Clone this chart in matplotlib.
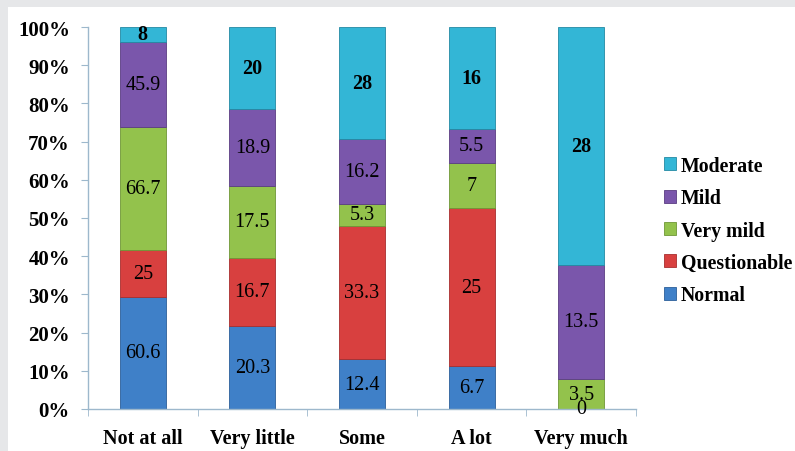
import numpy as np
import matplotlib
matplotlib.use('Agg')
import matplotlib.pyplot as plt
from matplotlib.patches import Rectangle, Patch

plt.rcParams['font.family'] = ['Liberation Serif', 'DejaVu Serif']

# raw counts per category (shown as labels), stacked to 100%
categories = ['Not at all', 'Very little', 'Some', 'A lot', 'Very much']
series = ['Normal', 'Questionable', 'Very mild', 'Mild', 'Moderate']
normal = [60.6, 20.3, 12.4, 6.7, 0]
questionable = [25, 16.7, 33.3, 25, 0]
very_mild = [66.7, 17.5, 5.3, 7, 3.5]
mild = [45.9, 18.9, 16.2, 5.5, 13.5]
moderate = [8, 20, 28, 16, 28]
colors = ['#3f80c8', '#d8403f', '#93c24c', '#7a56ab', '#33b6d6']
edges = ['#2c5f99', '#a82e2e', '#6f9637', '#5a3d82', '#2389a3']

data = np.array([normal, questionable, very_mild, mild, moderate], dtype=float)
pct = data / data.sum(axis=0) * 100

fig = plt.figure(figsize=(7.95, 4.52), dpi=100)
fig.patch.set_facecolor('#e6e7e9')
fig.patches.append(Rectangle((8 / 795, 0), 1, 1 - 8 / 452, transform=fig.transFigure,
                             facecolor='white', edgecolor='none', zorder=-10))

ax = fig.add_axes([88 / 795, 1 - 410 / 452, (636 - 88) / 795, (410 - 28) / 452])
ax.set_facecolor('none')

x = np.arange(len(categories))
bottom = np.zeros(len(categories))
for i, name in enumerate(series):
    ax.bar(x, pct[i], 0.42, bottom=bottom, color=colors[i], edgecolor=edges[i],
           linewidth=0.6, label=name, zorder=2)
    for j in range(len(categories)):
        v = data[i, j]
        if v == 0 and i != 0:
            continue
        txt = ('%g' % v)
        ax.text(x[j], bottom[j] + pct[i, j] / 2, txt, ha='center', va='center',
                fontsize=14.5, fontweight='bold' if name == 'Moderate' else 'normal',
                color='black', zorder=3)
    bottom += pct[i]

ax.set_xlim(-0.5, len(categories) - 0.5)
ax.set_ylim(0, 100)
ax.set_yticks(np.arange(0, 101, 10))
ax.set_yticklabels(['%d%%' % t for t in range(0, 101, 10)], fontsize=15, fontweight='bold')
ax.set_xticks(x)
ax.set_xticklabels(categories, fontsize=14.5, fontweight='bold')
ax.set_xticks(np.arange(-0.5, len(categories)), minor=True)
ax.tick_params(axis='x', which='major', length=0, pad=14)
ax.tick_params(axis='x', which='minor', length=5, color='#9db8cc', direction='out')
ax.tick_params(axis='y', length=5, color='#9db8cc', pad=8)

for s in ['top', 'right']:
    ax.spines[s].set_visible(False)
for s in ['left', 'bottom']:
    ax.spines[s].set_color('#9db8cc')
    ax.spines[s].set_linewidth(1.0)

handles = [Patch(facecolor=colors[i], edgecolor=edges[i], linewidth=0.6) for i in range(len(series))][::-1]
fig.legend(handles, series[::-1], loc='upper left', bbox_to_anchor=(646 / 795, 1 - 139 / 452),
           frameon=False, handlelength=0.62, handleheight=0.62, handletextpad=0.25,
           labelspacing=0.62, prop={'size': 14.3, 'weight': 'bold'})

fig.savefig('out.png', dpi=100, facecolor=fig.get_facecolor())
